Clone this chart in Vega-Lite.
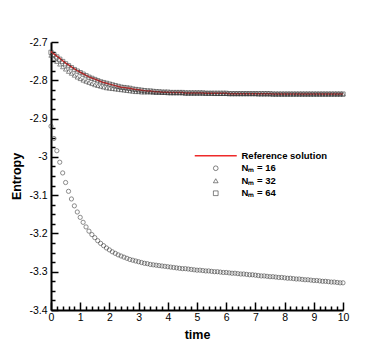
{
  "$schema": "https://vega.github.io/schema/vega-lite/v6.json",
  "width": 292,
  "height": 268,
  "autosize": {"type": "none"},
  "padding": {"left": 51, "top": 42, "right": 47, "bottom": 37},
  "background": "white",
  "config": {
    "view": {"stroke": null},
    "axis": {"domainColor": "black", "domainWidth": 2, "tickColor": "black", "tickWidth": 1.5, "labelColor": "black", "labelFont": "Liberation Sans", "labelFontSize": 10.5, "grid": false, "titleFont": "Liberation Sans", "titleFontWeight": "bold", "titleFontSize": 12.5, "titleColor": "black"}
  },
  "data": {"values": [
    {"t":0,"ref":-2.725,"n16":-2.920,"n32":-2.735,"n64":-2.727},
    {"t":0.1,"ref":-2.731,"n16":-2.952,"n32":-2.743,"n64":-2.733},
    {"t":0.2,"ref":-2.737,"n16":-2.984,"n32":-2.751,"n64":-2.739},
    {"t":0.3,"ref":-2.743,"n16":-3.014,"n32":-2.758,"n64":-2.745},
    {"t":0.4,"ref":-2.749,"n16":-3.042,"n32":-2.765,"n64":-2.751},
    {"t":0.5,"ref":-2.755,"n16":-3.067,"n32":-2.771,"n64":-2.757},
    {"t":0.6,"ref":-2.760,"n16":-3.090,"n32":-2.777,"n64":-2.762},
    {"t":0.7,"ref":-2.765,"n16":-3.110,"n32":-2.782,"n64":-2.767},
    {"t":0.8,"ref":-2.770,"n16":-3.128,"n32":-2.787,"n64":-2.772},
    {"t":0.9,"ref":-2.775,"n16":-3.144,"n32":-2.792,"n64":-2.776},
    {"t":1.0,"ref":-2.779,"n16":-3.158,"n32":-2.796,"n64":-2.780},
    {"t":1.1,"ref":-2.783,"n16":-3.171,"n32":-2.800,"n64":-2.784},
    {"t":1.2,"ref":-2.787,"n16":-3.183,"n32":-2.803,"n64":-2.788},
    {"t":1.3,"ref":-2.791,"n16":-3.194,"n32":-2.806,"n64":-2.792},
    {"t":1.4,"ref":-2.794,"n16":-3.203,"n32":-2.809,"n64":-2.795},
    {"t":1.5,"ref":-2.797,"n16":-3.211,"n32":-2.812,"n64":-2.798},
    {"t":1.6,"ref":-2.800,"n16":-3.219,"n32":-2.814,"n64":-2.801},
    {"t":1.7,"ref":-2.803,"n16":-3.226,"n32":-2.816,"n64":-2.804},
    {"t":1.8,"ref":-2.806,"n16":-3.232,"n32":-2.818,"n64":-2.806},
    {"t":1.9,"ref":-2.808,"n16":-3.238,"n32":-2.820,"n64":-2.808},
    {"t":2.0,"ref":-2.810,"n16":-3.243,"n32":-2.821,"n64":-2.810},
    {"t":2.1,"ref":-2.812,"n16":-3.248,"n32":-2.822,"n64":-2.812},
    {"t":2.2,"ref":-2.814,"n16":-3.252,"n32":-2.823,"n64":-2.814},
    {"t":2.3,"ref":-2.816,"n16":-3.256,"n32":-2.824,"n64":-2.816},
    {"t":2.4,"ref":-2.818,"n16":-3.259,"n32":-2.825,"n64":-2.818},
    {"t":2.5,"ref":-2.819,"n16":-3.262,"n32":-2.826,"n64":-2.819},
    {"t":2.6,"ref":-2.820,"n16":-3.265,"n32":-2.827,"n64":-2.820},
    {"t":2.7,"ref":-2.821,"n16":-3.268,"n32":-2.828,"n64":-2.821},
    {"t":2.8,"ref":-2.823,"n16":-3.270,"n32":-2.829,"n64":-2.823},
    {"t":2.9,"ref":-2.824,"n16":-3.272,"n32":-2.830,"n64":-2.824},
    {"t":3.0,"ref":-2.825,"n16":-3.274,"n32":-2.830,"n64":-2.825},
    {"t":3.1,"ref":-2.826,"n16":-3.276,"n32":-2.831,"n64":-2.826},
    {"t":3.2,"ref":-2.827,"n16":-3.278,"n32":-2.831,"n64":-2.827},
    {"t":3.3,"ref":-2.828,"n16":-3.279,"n32":-2.831,"n64":-2.828},
    {"t":3.4,"ref":-2.828,"n16":-3.281,"n32":-2.831,"n64":-2.828},
    {"t":3.5,"ref":-2.829,"n16":-3.282,"n32":-2.832,"n64":-2.829},
    {"t":3.6,"ref":-2.830,"n16":-3.283,"n32":-2.832,"n64":-2.830},
    {"t":3.7,"ref":-2.830,"n16":-3.284,"n32":-2.832,"n64":-2.830},
    {"t":3.8,"ref":-2.831,"n16":-3.285,"n32":-2.832,"n64":-2.831},
    {"t":3.9,"ref":-2.831,"n16":-3.286,"n32":-2.832,"n64":-2.831},
    {"t":4.0,"ref":-2.831,"n16":-3.287,"n32":-2.833,"n64":-2.831},
    {"t":4.1,"ref":-2.832,"n16":-3.288,"n32":-2.833,"n64":-2.832},
    {"t":4.2,"ref":-2.832,"n16":-3.289,"n32":-2.833,"n64":-2.832},
    {"t":4.3,"ref":-2.832,"n16":-3.290,"n32":-2.833,"n64":-2.832},
    {"t":4.4,"ref":-2.832,"n16":-3.291,"n32":-2.833,"n64":-2.832},
    {"t":4.5,"ref":-2.832,"n16":-3.292,"n32":-2.833,"n64":-2.832},
    {"t":4.6,"ref":-2.833,"n16":-3.292,"n32":-2.834,"n64":-2.833},
    {"t":4.7,"ref":-2.833,"n16":-3.293,"n32":-2.834,"n64":-2.833},
    {"t":4.8,"ref":-2.833,"n16":-3.294,"n32":-2.834,"n64":-2.833},
    {"t":4.9,"ref":-2.833,"n16":-3.295,"n32":-2.834,"n64":-2.833},
    {"t":5.0,"ref":-2.833,"n16":-3.296,"n32":-2.834,"n64":-2.833},
    {"t":5.1,"ref":-2.833,"n16":-3.296,"n32":-2.834,"n64":-2.833},
    {"t":5.2,"ref":-2.833,"n16":-3.297,"n32":-2.834,"n64":-2.833},
    {"t":5.3,"ref":-2.834,"n16":-3.298,"n32":-2.834,"n64":-2.834},
    {"t":5.4,"ref":-2.834,"n16":-3.298,"n32":-2.834,"n64":-2.834},
    {"t":5.5,"ref":-2.834,"n16":-3.299,"n32":-2.834,"n64":-2.834},
    {"t":5.6,"ref":-2.834,"n16":-3.300,"n32":-2.835,"n64":-2.834},
    {"t":5.7,"ref":-2.834,"n16":-3.300,"n32":-2.835,"n64":-2.834},
    {"t":5.8,"ref":-2.834,"n16":-3.301,"n32":-2.835,"n64":-2.834},
    {"t":5.9,"ref":-2.834,"n16":-3.302,"n32":-2.835,"n64":-2.834},
    {"t":6.0,"ref":-2.834,"n16":-3.302,"n32":-2.835,"n64":-2.834},
    {"t":6.1,"ref":-2.835,"n16":-3.303,"n32":-2.835,"n64":-2.835},
    {"t":6.2,"ref":-2.835,"n16":-3.304,"n32":-2.835,"n64":-2.835},
    {"t":6.3,"ref":-2.835,"n16":-3.304,"n32":-2.835,"n64":-2.835},
    {"t":6.4,"ref":-2.835,"n16":-3.305,"n32":-2.835,"n64":-2.835},
    {"t":6.5,"ref":-2.835,"n16":-3.306,"n32":-2.835,"n64":-2.835},
    {"t":6.6,"ref":-2.835,"n16":-3.306,"n32":-2.835,"n64":-2.835},
    {"t":6.7,"ref":-2.835,"n16":-3.307,"n32":-2.835,"n64":-2.835},
    {"t":6.8,"ref":-2.835,"n16":-3.308,"n32":-2.835,"n64":-2.835},
    {"t":6.9,"ref":-2.835,"n16":-3.308,"n32":-2.835,"n64":-2.835},
    {"t":7.0,"ref":-2.835,"n16":-3.309,"n32":-2.835,"n64":-2.835},
    {"t":7.1,"ref":-2.835,"n16":-3.310,"n32":-2.836,"n64":-2.835},
    {"t":7.2,"ref":-2.835,"n16":-3.311,"n32":-2.836,"n64":-2.835},
    {"t":7.3,"ref":-2.835,"n16":-3.311,"n32":-2.836,"n64":-2.835},
    {"t":7.4,"ref":-2.835,"n16":-3.312,"n32":-2.836,"n64":-2.835},
    {"t":7.5,"ref":-2.835,"n16":-3.313,"n32":-2.836,"n64":-2.835},
    {"t":7.6,"ref":-2.836,"n16":-3.313,"n32":-2.836,"n64":-2.836},
    {"t":7.7,"ref":-2.836,"n16":-3.314,"n32":-2.836,"n64":-2.836},
    {"t":7.8,"ref":-2.836,"n16":-3.315,"n32":-2.836,"n64":-2.836},
    {"t":7.9,"ref":-2.836,"n16":-3.315,"n32":-2.836,"n64":-2.836},
    {"t":8.0,"ref":-2.836,"n16":-3.316,"n32":-2.836,"n64":-2.836},
    {"t":8.1,"ref":-2.836,"n16":-3.317,"n32":-2.836,"n64":-2.836},
    {"t":8.2,"ref":-2.836,"n16":-3.317,"n32":-2.836,"n64":-2.836},
    {"t":8.3,"ref":-2.836,"n16":-3.318,"n32":-2.836,"n64":-2.836},
    {"t":8.4,"ref":-2.836,"n16":-3.319,"n32":-2.836,"n64":-2.836},
    {"t":8.5,"ref":-2.836,"n16":-3.319,"n32":-2.836,"n64":-2.836},
    {"t":8.6,"ref":-2.836,"n16":-3.320,"n32":-2.836,"n64":-2.836},
    {"t":8.7,"ref":-2.836,"n16":-3.321,"n32":-2.836,"n64":-2.836},
    {"t":8.8,"ref":-2.836,"n16":-3.321,"n32":-2.836,"n64":-2.836},
    {"t":8.9,"ref":-2.836,"n16":-3.322,"n32":-2.836,"n64":-2.836},
    {"t":9.0,"ref":-2.836,"n16":-3.323,"n32":-2.836,"n64":-2.836},
    {"t":9.1,"ref":-2.836,"n16":-3.323,"n32":-2.836,"n64":-2.836},
    {"t":9.2,"ref":-2.836,"n16":-3.324,"n32":-2.836,"n64":-2.836},
    {"t":9.3,"ref":-2.836,"n16":-3.325,"n32":-2.836,"n64":-2.836},
    {"t":9.4,"ref":-2.836,"n16":-3.325,"n32":-2.836,"n64":-2.836},
    {"t":9.5,"ref":-2.836,"n16":-3.326,"n32":-2.836,"n64":-2.836},
    {"t":9.6,"ref":-2.836,"n16":-3.327,"n32":-2.836,"n64":-2.836},
    {"t":9.7,"ref":-2.836,"n16":-3.327,"n32":-2.836,"n64":-2.836},
    {"t":9.8,"ref":-2.836,"n16":-3.328,"n32":-2.836,"n64":-2.836},
    {"t":9.9,"ref":-2.836,"n16":-3.329,"n32":-2.836,"n64":-2.836},
    {"t":10.0,"ref":-2.836,"n16":-3.329,"n32":-2.836,"n64":-2.836}
  ]},
  "encoding": {
    "x": {"field": "t", "type": "quantitative",
      "scale": {"domain": [0, 10], "nice": false, "zero": false},
      "axis": {"title": "time", "titlePadding": 2,
        "values": [0,0.2,0.4,0.6,0.8,1,1.2,1.4,1.6,1.8,2,2.2,2.4,2.6,2.8,3,3.2,3.4,3.6,3.8,4,4.2,4.4,4.6,4.8,5,5.2,5.4,5.6,5.8,6,6.2,6.4,6.6,6.8,7,7.2,7.4,7.6,7.8,8,8.2,8.4,8.6,8.8,9,9.2,9.4,9.6,9.8,10],
        "labelExpr": "datum.value % 1 == 0 ? datum.value + '' : ''",
        "tickSize": {"condition": {"test": "datum.value % 1 == 0", "value": -8}, "value": -4},
        "labelPadding": 10, "labelFlush": false, "labelOverlap": false}
    },
    "y": {"field": "E", "type": "quantitative",
      "scale": {"domain": [-3.4, -2.7], "nice": false, "zero": false},
      "axis": {"title": "Entropy", "titlePadding": 5,
        "values": [-3.4,-3.375,-3.35,-3.325,-3.3,-3.275,-3.25,-3.225,-3.2,-3.175,-3.15,-3.125,-3.1,-3.075,-3.05,-3.025,-3,-2.975,-2.95,-2.925,-2.9,-2.875,-2.85,-2.825,-2.8,-2.775,-2.75,-2.725,-2.7],
        "labelExpr": "abs(datum.value*10 - round(datum.value*10)) < 0.001 ? datum.value + '' : ''",
        "tickSize": {"condition": {"test": "abs(datum.value*10 - round(datum.value*10)) < 0.001", "value": -7}, "value": -4},
        "labelPadding": 11, "labelFlush": false, "labelOverlap": false}
    },
    "color": {"field": "series", "type": "nominal",
      "scale": {"domain": ["ref", "n16", "n32", "n64"], "range": ["#ee2a2a", "#333333", "#333333", "#333333"]},
      "legend": {"orient": "none", "legendX": 141, "legendY": 109, "title": null,
        "labelFont": "Liberation Sans", "labelFontWeight": "bold", "labelFontSize": 9.5, "labelColor": "black",
        "labelExpr": "datum.value == 'ref' ? 'Reference solution' : datum.value == 'n16' ? 'Nₘ = 16' : datum.value == 'n32' ? 'Nₘ = 32' : 'Nₘ = 64'",
        "symbolSize": 22, "symbolStrokeWidth": 0.6, "rowPadding": 1.5, "symbolOffset": 19, "labelOffset": 21,
        "symbolFillColor": "white",
        "encode": {"symbols": {"update": {
          "size": {"signal": "datum.value == 'ref' ? 1764 : 22"},
          "strokeWidth": {"signal": "datum.value == 'ref' ? 1.5 : 0.6"},
          "fill": {"value": "white"},
          "fillOpacity": {"value": 0}
        }}}}
    },
    "shape": {"field": "series", "type": "nominal",
      "scale": {"domain": ["ref", "n16", "n32", "n64"], "range": ["stroke", "circle", "triangle-up", "square"]}
    }
  },
  "layer": [
    {
      "transform": [{"fold": ["ref"], "as": ["series", "E"]}],
      "mark": {"type": "line", "strokeWidth": 1.5}
    },
    {
      "transform": [{"fold": ["n16", "n32", "n64"], "as": ["series", "E"]}],
      "mark": {"type": "point", "filled": false, "strokeWidth": 0.8, "size": 18}
    }
  ]
}
